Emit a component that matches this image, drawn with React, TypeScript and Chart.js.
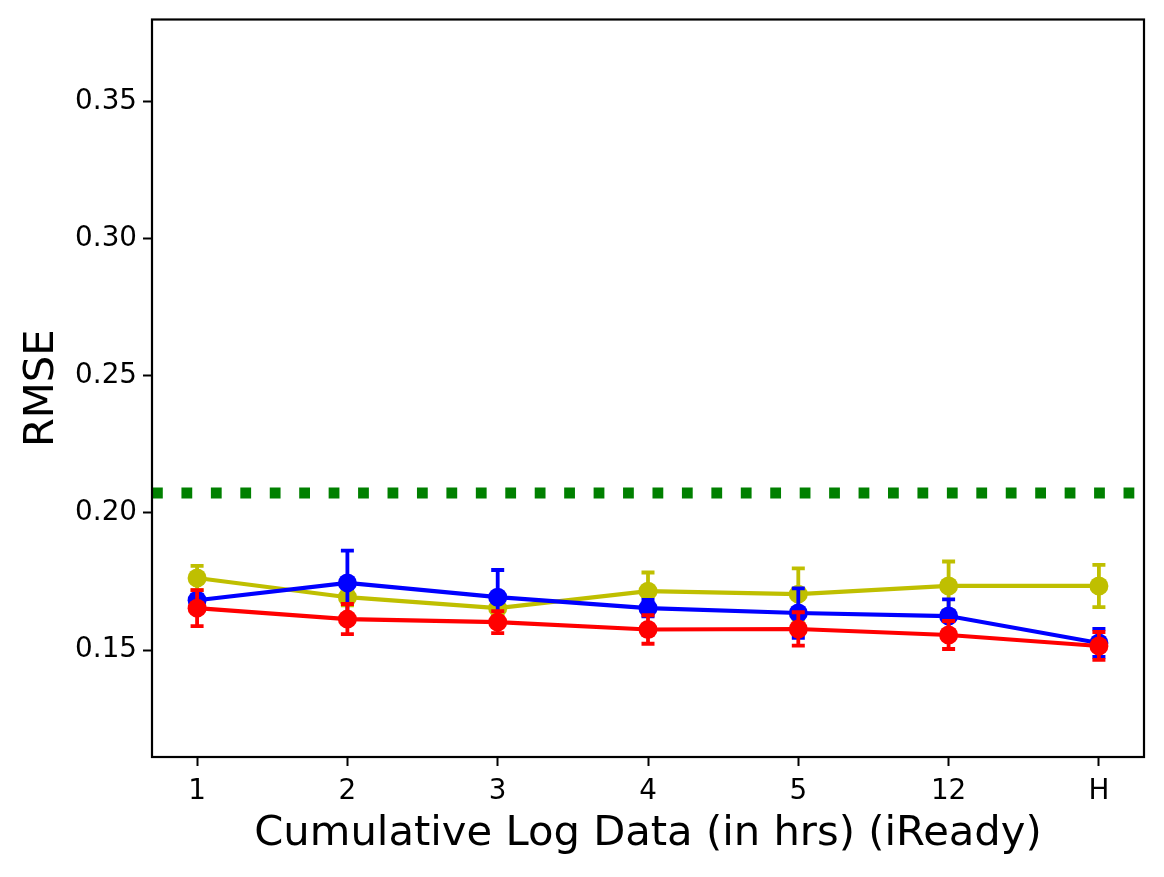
import React, { useEffect, useRef } from "react";
import { Chart, registerables } from "chart.js";

Chart.register(...registerables);

const xLabels = ["1", "2", "3", "4", "5", "12", "H"];
const yTicks = [0.15, 0.2, 0.25, 0.3, 0.35];

const yellowValues = [0.1763, 0.1693, 0.1653, 0.1715, 0.1704, 0.1734, 0.1734];
const yellowErrors = [0.0044, 0.003, 0.003, 0.0068, 0.0094, 0.0089, 0.0077];
const blueValues = [0.1682, 0.1745, 0.1693, 0.1653, 0.1635, 0.1624, 0.1526];
const blueErrors = [0.002, 0.0118, 0.0099, 0.003, 0.009, 0.0061, 0.0051];
const redValues = [0.1653, 0.1613, 0.1602, 0.1575, 0.1577, 0.1555, 0.1515];
const redErrors = [0.0066, 0.0055, 0.004, 0.0052, 0.0061, 0.0051, 0.0051];
const baselineValue = 0.2073;

const FONT = "'DejaVu Sans', sans-serif";

const errorBarsPlugin = {
  id: "errorBars",
  beforeDatasetDraw(chart: any, args: any) {
    const ds = chart.data.datasets[args.index];
    const errs = ds.errors;
    if (!errs) return;
    const ctx = chart.ctx;
    const xs = chart.scales.x;
    const ys = chart.scales.y;
    ctx.save();
    ctx.strokeStyle = ds.borderColor;
    ctx.lineWidth = 3.8;
    ctx.lineCap = "butt";
    ds.data.forEach((p: any, i: number) => {
      const x = xs.getPixelForValue(p.x);
      const y1 = ys.getPixelForValue(p.y - errs[i]);
      const y2 = ys.getPixelForValue(p.y + errs[i]);
      ctx.beginPath();
      ctx.moveTo(x, y1);
      ctx.lineTo(x, y2);
      ctx.moveTo(x - 6.5, y1);
      ctx.lineTo(x + 6.5, y1);
      ctx.moveTo(x - 6.5, y2);
      ctx.lineTo(x + 6.5, y2);
      ctx.stroke();
    });
    ctx.restore();
  },
};

const framePlugin = {
  id: "frame",
  afterDatasetsDraw(chart: any) {
    const { left, top, right, bottom } = chart.chartArea;
    const ctx = chart.ctx;
    ctx.save();
    ctx.strokeStyle = "#000";
    ctx.lineWidth = 2.2;
    ctx.strokeRect(left, top, right - left, bottom - top);
    ctx.restore();
  },
};

function toPoints(vals: number[]) {
  return vals.map((v, i) => ({ x: i, y: v }));
}

export default function App() {
  const ref = useRef<HTMLCanvasElement | null>(null);
  useEffect(() => {
    if (!ref.current) return;
    const series = (color: string, vals: number[], errs: number[]) => ({
      data: toPoints(vals),
      errors: errs,
      borderColor: color,
      backgroundColor: color,
      borderWidth: 4.1,
      pointRadius: 9.5,
      pointBorderWidth: 0,
      pointBackgroundColor: color,
      tension: 0,
      fill: false,
    });
    const chart = new Chart(ref.current, {
      type: "line",
      data: {
        datasets: [
          series("#ff0000", redValues, redErrors),
          series("#0000ff", blueValues, blueErrors),
          series("#bfbf00", yellowValues, yellowErrors),
          {
            data: [
              { x: -0.3, y: baselineValue },
              { x: 6.3, y: baselineValue },
            ],
            borderColor: "#008000",
            borderWidth: 10.8,
            borderDash: [10.8, 18.64],
            borderCapStyle: "butt",
            pointRadius: 0,
            fill: false,
          } as any,
        ],
      },
      options: {
        animation: false,
        responsive: true,
        maintainAspectRatio: false,
        devicePixelRatio: 1,
        layout: { padding: { top: 19.5, right: 20, left: 0, bottom: 0 } },
        plugins: {
          legend: { display: false },
          tooltip: { enabled: false },
        },
        scales: {
          x: {
            type: "linear",
            min: -0.3,
            max: 6.3,
            afterFit: (s: any) => {
              s.height = 120;
              s.paddingLeft = 0;
              s.paddingRight = 0;
            },
            afterBuildTicks: (s: any) => {
              s.ticks = xLabels.map((_, i) => ({ value: i }));
            },
            ticks: {
              callback: (v: any) => xLabels[v as number] ?? "",
              color: "#000",
              font: { family: FONT, size: 27.8 },
              padding: 9,
              maxRotation: 0,
              autoSkip: false,
            },
            grid: {
              display: true,
              drawOnChartArea: false,
              drawTicks: true,
              tickLength: 9,
              tickWidth: 2,
              tickColor: "#000",
            },
            border: { display: false },
            title: {
              display: true,
              text: "Cumulative Log Data (in hrs) (iReady)",
              color: "#000",
              font: { family: FONT, size: 41.7 },
              padding: { top: 0, bottom: 18 },
            },
          },
          y: {
            type: "linear",
            min: 0.111,
            max: 0.38,
            afterFit: (s: any) => {
              s.width = 152;
              s.paddingTop = 0;
              s.paddingBottom = 0;
            },
            afterBuildTicks: (s: any) => {
              s.ticks = yTicks.map((v) => ({ value: v }));
            },
            ticks: {
              callback: (v: any) => (v as number).toFixed(2),
              color: "#000",
              font: { family: FONT, size: 27.8 },
              padding: 6,
            },
            grid: {
              display: true,
              drawOnChartArea: false,
              drawTicks: true,
              tickLength: 9,
              tickWidth: 2,
              tickColor: "#000",
            },
            border: { display: false },
            title: {
              display: true,
              text: "RMSE",
              color: "#000",
              font: { family: FONT, size: 41.7 },
              padding: { top: 17, bottom: 0 },
            },
          },
        },
      } as any,
      plugins: [errorBarsPlugin, framePlugin],
    });
    return () => chart.destroy();
  }, []);
  return (
    <div style={{ position: "absolute", left: 0, top: 0, width: 1164, height: 877, background: "#fff" }}>
      <canvas ref={ref} />
    </div>
  );
}
